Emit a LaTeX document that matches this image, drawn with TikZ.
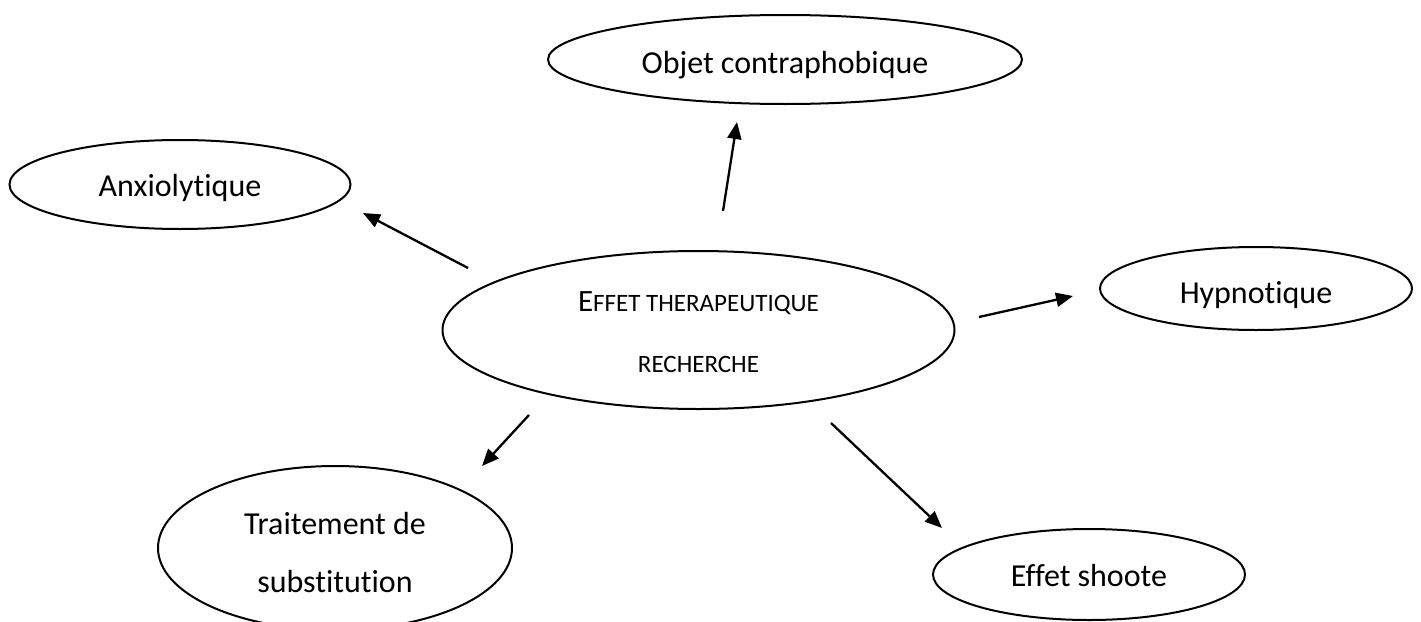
\documentclass[tikz,border=0pt]{standalone}
\usepackage{fontspec}
\setmainfont{Carlito}[Ligatures=NoCommon]
\usetikzlibrary{shapes.geometric,arrows.meta}
\newcommand\dnshift[2]{\raisebox{-#1}[\height][\depth]{#2}}
\begin{document}
\begin{tikzpicture}[x=1pt,y=-1pt,
  bubble/.style={draw, ellipse, line width=2pt, inner sep=0pt, align=center,
    font=\fontsize{32}{58}\selectfont},
  arr/.style={line width=2.3pt, -{Triangle[length=17pt,width=14pt]}}]
\useasboundingbox (0,0) rectangle (1421,621);
\clip (0,0) rectangle (1421,621);
\fill[white] (0,0) rectangle (1421,621);
% nodes
\node[bubble, minimum width=512pt, minimum height=158pt,
  font=\fontsize{25}{61}\selectfont, text height=40pt, text depth=27.5pt] (c) at (698.5,330)
  {\begin{tabular}{@{}c@{}}{\fontsize{31}{61}\selectfont E}FFET THERAPEUTIQUE\\RECHERCHE\end{tabular}};
\node[bubble, minimum width=474pt, minimum height=89pt] (obj) at (785,59.5) {\dnshift{6pt}{Objet contraphobique}};
\node[bubble, minimum width=341pt, minimum height=89pt] (anx) at (180,184.5) {\dnshift{3.5pt}{Anxiolytique}};
\node[bubble, minimum width=312pt, minimum height=83pt] (hyp) at (1256,288.5) {\dnshift{7pt}{Hypnotique}};
\node[bubble, minimum width=312pt, minimum height=91pt] (sho) at (1089,574.5) {\dnshift{1.5pt}{Effet shoote}};
\node[bubble, minimum width=354pt, minimum height=164pt, text height=40pt, text depth=20pt] (sub) at (335,548)
  {\begin{tabular}{@{}c@{}}Traitement de\\substitution\end{tabular}};
% arrow end points
\coordinate (s1) at (468,268); \coordinate (t1) at (363,213);
\coordinate (s2) at (723,211); \coordinate (t2) at (737,122);
\coordinate (s3) at (979,317); \coordinate (t3) at (1073,296);
\coordinate (s4) at (529,415); \coordinate (t4) at (482,466);
\coordinate (s5) at (831,423); \coordinate (t5) at (942,528);
\draw[arr] (s1) -- (t1);
\draw[arr] (s2) -- (t2);
\draw[arr] (s3) -- (t3);
\draw[arr] (s4) -- (t4);
\draw[arr] (s5) -- (t5);
\end{tikzpicture}
\end{document}
